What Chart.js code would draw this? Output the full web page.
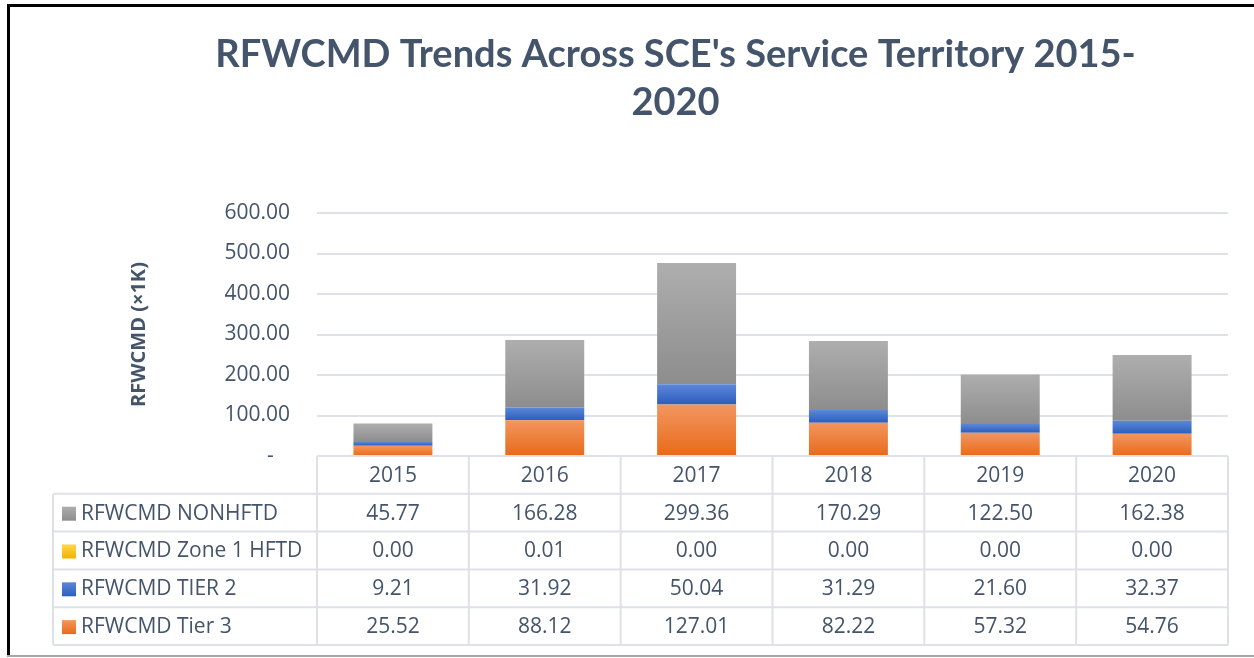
<!DOCTYPE html>
<html>
<head>
<meta charset="utf-8">
<script src="https://cdn.jsdelivr.net/npm/chart.js@4.4.1/dist/chart.umd.min.js"></script>
<style>
  html, body { margin: 0; padding: 0; background: #ffffff; }
  #wrap { position: relative; width: 1254px; height: 658px; }
</style>
</head>
<body>
<div id="wrap"><canvas id="c"></canvas></div>
<script>
// ---- data ----
const years = ['2015', '2016', '2017', '2018', '2019', '2020'];
const tier3 = [25.52, 88.12, 127.01, 82.22, 57.32, 54.76];
const tier2 = [9.21, 31.92, 50.04, 31.29, 21.60, 32.37];
const zone1 = [0.00, 0.01, 0.00, 0.00, 0.00, 0.00];
const nonhftd = [45.77, 166.28, 299.36, 170.29, 122.50, 162.38];
const seriesNames = ['RFWCMD Tier 3', 'RFWCMD TIER 2', 'RFWCMD Zone 1 HFTD', 'RFWCMD NONHFTD'];
const yTicks = [0, 100, 200, 300, 400, 500, 600];

const TEXT = '#44546A';
const FONT = "'Open Sans', 'Noto Sans', sans-serif";
const GRID = '#DEE2E8';

const palettes = [
  ['#F2965F', '#E86A1A'],   // Tier 3 orange
  ['#5C88D8', '#2C5DBE'],   // Tier 2 blue
  ['#FFD54A', '#F0B400'],   // Zone 1 yellow
  ['#AEAEAE', '#8D8D8D']    // NONHFTD gray
];

function barGradient(idx) {
  return (ctx) => {
    const chart = ctx.chart;
    if (!chart.chartArea || ctx.type !== 'data') return palettes[idx][1];
    const ys = chart.scales.y;
    let base = 0;
    for (let d = 0; d < ctx.datasetIndex; d++) base += chart.data.datasets[d].data[ctx.dataIndex];
    const v = chart.data.datasets[ctx.datasetIndex].data[ctx.dataIndex];
    const yTop = ys.getPixelForValue(base + v);
    const yBot = ys.getPixelForValue(base);
    if (!(yBot - yTop > 0.5)) return palettes[idx][1];
    const g = chart.ctx.createLinearGradient(0, yTop, 0, yBot);
    g.addColorStop(0, palettes[idx][0]);
    g.addColorStop(1, palettes[idx][1]);
    return g;
  };
}

const seriesData = [tier3, tier2, zone1, nonhftd];

const tablePlugin = {
  id: 'dataTable',
  afterDraw(chart) {
    const ctx = chart.ctx;
    const ca = chart.chartArea;
    const xs = chart.scales.x;
    const n = years.length;
    const colW = ca.width / n;
    const rowH = 37.8;
    const top = ca.bottom;
    const labelLeft = 53;
    const rows = [3, 2, 1, 0]; // NONHFTD, Zone1, TIER2, Tier3
    ctx.save();
    ctx.strokeStyle = GRID;
    ctx.lineWidth = 2;
    ctx.beginPath();
    ctx.moveTo(ca.left, top); ctx.lineTo(ca.right, top);
    for (let k = 1; k <= rows.length + 1; k++) {
      const y = top + rowH * k;
      ctx.moveTo(labelLeft, y); ctx.lineTo(ca.right, y);
    }
    for (let i = 0; i <= n; i++) {
      const x = ca.left + colW * i;
      ctx.moveTo(x, top); ctx.lineTo(x, top + rowH * (rows.length + 1));
    }
    ctx.moveTo(labelLeft, top + rowH); ctx.lineTo(labelLeft, top + rowH * (rows.length + 1));
    ctx.stroke();

    ctx.fillStyle = TEXT;
    ctx.font = "21px " + FONT;
    ctx.textBaseline = 'middle';
    ctx.textAlign = 'center';
    for (let i = 0; i < n; i++) {
      const cx = xs.getPixelForValue(i);
      ctx.fillText(years[i], cx, top + rowH / 2 + 1);
    }
    rows.forEach((s, r) => {
      const yc = top + rowH * (r + 1) + rowH / 2 + 1;
      const kx = 62, ks = 14;
      const g = ctx.createLinearGradient(0, yc - ks / 2, 0, yc + ks / 2);
      g.addColorStop(0, palettes[s][0]);
      g.addColorStop(1, palettes[s][1]);
      ctx.fillStyle = g;
      ctx.fillRect(kx, yc - ks / 2, ks, ks);
      ctx.fillStyle = TEXT;
      ctx.textAlign = 'left';
      ctx.fillText(seriesNames[s], 81, yc);
      ctx.textAlign = 'center';
      for (let i = 0; i < n; i++) {
        ctx.fillText(seriesData[s][i].toFixed(2), xs.getPixelForValue(i), yc);
      }
    });

    // outer frame
    ctx.fillStyle = '#000000';
    ctx.fillRect(7, 4, 1254 - 7, 3);
    ctx.fillRect(7, 4, 3, 652);
    ctx.fillStyle = '#A6A6A6';
    ctx.fillRect(7, 655, 1254 - 7, 2);
    ctx.restore();
  }
};

Chart.defaults.font.family = FONT;
Chart.defaults.color = TEXT;

new Chart(document.getElementById('c'), {
  type: 'bar',
  data: {
    labels: years,
    datasets: seriesData.map((d, i) => ({
      label: seriesNames[i],
      data: d,
      backgroundColor: barGradient(i),
      borderWidth: 0,
      barPercentage: 0.52,
      categoryPercentage: 1.0
    }))
  },
  options: {
    responsive: true,
    maintainAspectRatio: false,
    animation: false,
    devicePixelRatio: 1,
    layout: { padding: { top: 10, left: 123, right: 26, bottom: 202 } },
    plugins: {
      legend: { display: false },
      tooltip: { enabled: false },
      title: {
        display: true,
        text: ["RFWCMD Trends Across SCE's Service Territory 2015-", '2020'],
        color: TEXT,
        font: { family: "Lato, 'Open Sans', sans-serif", size: 38, weight: 'bold', lineHeight: 48 / 38 },
        padding: { top: 21, bottom: 86 }
      }
    },
    scales: {
      x: {
        stacked: true,
        display: false
      },
      y: {
        stacked: true,
        min: 0,
        max: 600,
        afterBuildTicks: (s) => { s.ticks = yTicks.map(v => ({ value: v })); },
        afterFit: (s) => { s.width = 317 - 123; },
        ticks: {
          padding: 27,
          color: TEXT,
          font: { size: 21 },
          callback: (v) => v === 0 ? '-   ' : Number(v).toFixed(2)
        },
        grid: { color: GRID, lineWidth: 2, drawTicks: false },
        border: { display: false },
        title: {
          display: true,
          text: 'RFWCMD (×1K)',
          color: TEXT,
          font: { size: 20, weight: 'bold' },
          padding: { top: 4, bottom: 4 }
        }
      }
    }
  },
  plugins: [tablePlugin]
});
</script>
</body>
</html>
